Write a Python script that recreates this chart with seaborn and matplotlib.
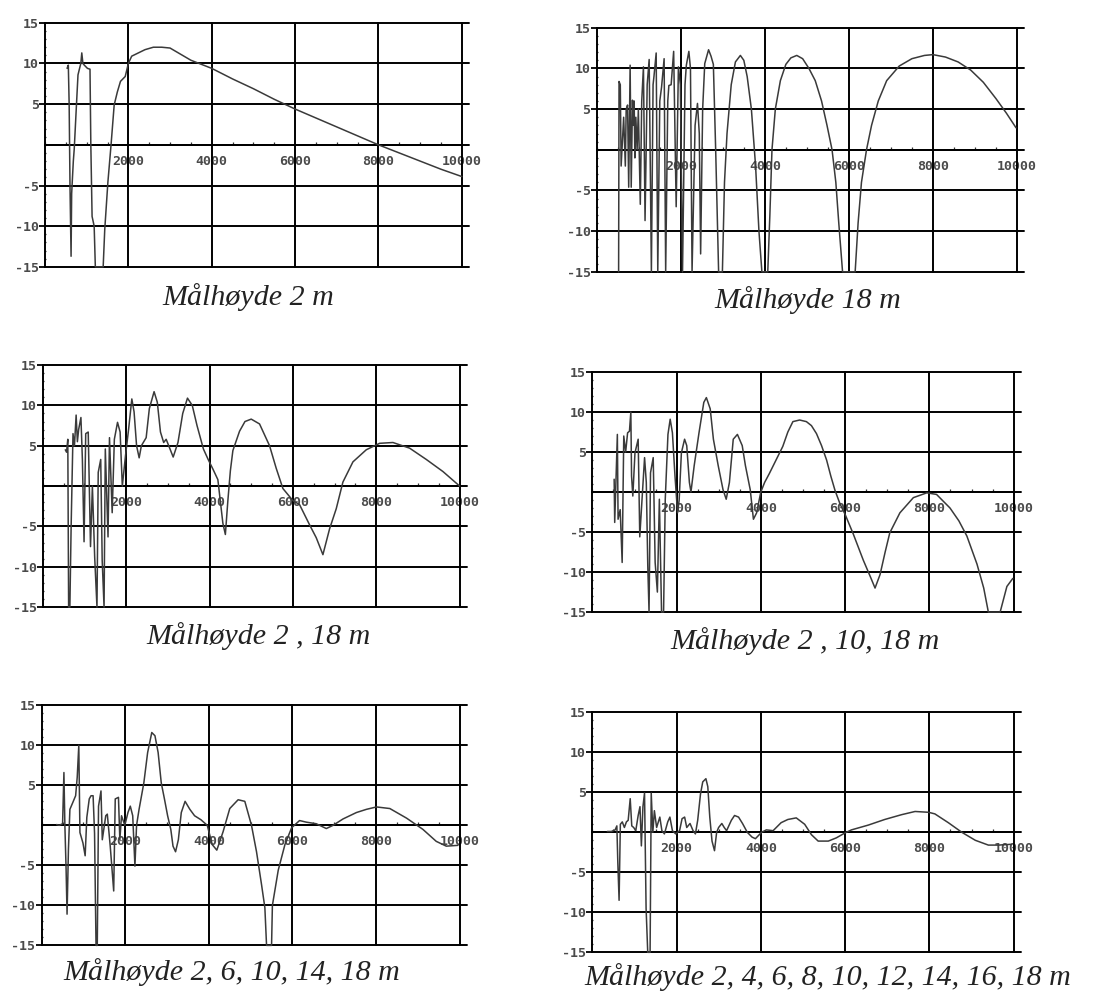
import numpy as np
import pandas as pd
import matplotlib
matplotlib.use("Agg")
import matplotlib.pyplot as plt
import seaborn as sns
from matplotlib.ticker import MultipleLocator

sns.set_theme(style="white")
plt.rcParams['font.family'] = ['DejaVu Sans']

# ---------------- data (frequency, level dB) ----------------
h2_x = [530, 560, 580, 600, 626, 640, 680, 702, 755, 792, 830, 860, 883, 910, 943, 1019, 1080, 1100,
        1130, 1180, 1208, 1396, 1434, 1509, 1585, 1660, 1736, 1811, 1925, 2000, 2080, 2200, 2400,
        2600, 2800, 3000, 3200, 3500, 4000, 4500, 5000, 5500, 6000, 6500, 7000, 7500, 8000, 8500,
        9000, 9500, 10000]
h2_y = [9.4, 9.8, 5, -5, -13.7, -6, -2, -0.5, 4.9, 8.6, 9.4, 10, 11.3, 10, 9.8, 9.4, 9.3, 0,
        -8.8, -10, -15, -15, -10.4, -4.6, 0, 4.9, 6.5, 7.8, 8.4, 10, 10.9, 11.2, 11.7,
        12, 12, 11.9, 11.3, 10.4, 9.4, 8.1, 6.9, 5.6, 4.4, 3.3, 2.2, 1.1, 0, -1,
        -2, -3, -3.9]

h18_x = [520, 530, 560, 580, 640, 680, 700, 733, 760, 794, 820, 850, 870, 890, 907, 930, 960, 990,
         1036, 1070, 1111, 1149, 1200, 1247, 1300, 1340, 1361, 1414, 1452, 1500, 1542, 1603, 1640,
         1690, 1716, 1770, 1830, 1890, 1943, 1990, 2041, 2100, 2132, 2192, 2230, 2268, 2340, 2397,
         2440, 2472, 2520, 2570, 2661, 2720, 2775, 2830, 2900, 2990, 3040, 3100, 3200, 3300, 3418,
         3500, 3580, 3680, 3780, 3860, 3930, 4070, 4120, 4170, 4250, 4370, 4500, 4620, 4760, 4900,
         5050, 5200, 5350, 5480, 5600, 5690, 5760, 5850, 6150, 6220, 6300, 6420, 6540, 6700, 6900,
         7200, 7500, 7800, 8000, 8300, 8600, 8900, 9200, 9500, 9750, 9980]
h18_y = [-15, 8.4, 8.0, -2, 4, -2, 5, 5.5, -4.6, 10.4, -4.6, 6.1, 3, 6, -1, 4, 0, 5,
         -6.7, 6, 10.2, -8.7, 8, 11.1, -15, 8, 9, 11.9, -15, 6, 7.7, 11.2, -15,
         6, 7.9, 8, 12.1, -7, 10.2, 8, -15, 8, 10.4, 12.1, 10, -15, 3, 5.7,
         2, -12.8, 5, 10.6, 12.3, 11.5, 10.5, 0, -15, -15, -4, 2, 8, 10.8, 11.6,
         11, 9, 5, -2, -10, -15, -15, -8, 0, 5, 8.5, 10.5, 11.3, 11.6, 11.2,
         10, 8.5, 6, 3, 0, -4, -9, -15, -15, -9, -4, 0, 3, 6, 8.5,
         10.3, 11.2, 11.6, 11.7, 11.4, 10.8, 9.8, 8.3, 6.3, 4.5, 2.7]

h2_18_x = [540, 570, 600, 620, 650, 680, 725, 760, 800, 830, 860, 915, 950, 990, 1030, 1090, 1145,
           1190, 1245, 1300, 1330, 1390, 1425, 1470, 1500, 1565, 1600, 1665, 1717, 1793, 1855, 1908,
           1985, 2060, 2136, 2190, 2250, 2312, 2365, 2480, 2556, 2670, 2747, 2823, 2900, 2960, 3052,
           3128, 3243, 3357, 3471, 3586, 3700, 3853, 3967, 4082, 4200, 4320, 4380, 4440, 4500, 4560,
           4720, 4850, 5000, 5200, 5440, 5600, 5760, 6000, 6160, 6400, 6560, 6720, 6880, 7040, 7200,
           7440, 7760, 8080, 8400, 8800, 9200, 9600, 10000]
h2_18_y = [4.5, 4.2, 5.8, -15, -15, -5, 6.5, 5, 8.8, 5.5, 7, 8.5, 3.3, -6.9, 6.5, 6.7, -7.5,
           0, -8.8, -15, 1.7, 3.3, -9.2, -15, 4.6, -6.3, 6, -3.3, 5.8, 7.9, 6.7, 0,
           3.8, 7.1, 10.8, 9.2, 5, 3.5, 5, 6, 9.6, 11.7, 10.4, 6.7, 5.4, 5.8, 4.6,
           3.6, 5.4, 9, 10.9, 10, 7.5, 4.6, 3.3, 2.1, 0.8, -4.6, -6, -1.8, 1.9, 4.4,
           6.8, 8, 8.3, 7.7, 5, 2.2, -0.3, -1.8, -2.3, -4.8, -6.4, -8.5, -5.3, -2.8, 0.5,
           3, 4.5, 5.3, 5.4, 4.7, 3.3, 1.8, 0]

h2_10_18_x = [517, 530, 593, 610, 660, 707, 745, 790, 836, 880, 913, 930, 960, 1011, 1087, 1125, 1180,
              1239, 1280, 1315, 1345, 1380, 1444, 1490, 1543, 1590, 1642, 1690, 1730, 1794, 1847, 1900,
              1961, 2022, 2060, 2113, 2189, 2240, 2303, 2340, 2417, 2531, 2645, 2706, 2797, 2873, 2987,
              3101, 3177, 3253, 3344, 3443, 3557, 3633, 3747, 3823, 3899, 3998, 4089, 4200, 4360, 4520,
              4640, 4760, 4920, 5080, 5200, 5320, 5440, 5560, 5660, 5760, 5880, 6000, 6190, 6430, 6600,
              6710, 6830, 6950, 7060, 7300, 7620, 7940, 8170, 8490, 8700, 8890, 9130, 9290, 9400, 9680,
              9840, 9980]
h2_10_18_y = [1.6, -3.8, 7.2, -3.4, -2.2, -8.8, 7, 5, 7.4, 7.6, 10, 2, -0.5, 4.9, 6.6, -5.6, -0.8,
              4.3, 1.2, -9.2, -15, 2.4, 4.3, -8.8, -12.5, -0.9, -15, -15, -0.9, 7.2, 9.1, 7.4,
              2, -2.6, -1, 4.9, 6.6, 5.8, 1.2, 0, 3.3, 7.4, 11.2, 11.8, 10.4, 6.6, 3.3,
              0.3, -0.9, 1.2, 6.6, 7.2, 5.8, 3.3, 0.3, -3.4, -2.6, 0, 1.2, 2.3, 4, 5.7,
              7.5, 8.8, 9, 8.8, 8.3, 7.3, 5.8, 4, 2, 0.2, -1.5, -2.8, -5.2, -8.5, -10.6,
              -12, -10.3, -7.5, -5.1, -2.6, -0.7, -0.1, -0.3, -2, -3.6, -5.5, -9, -12, -15, -15,
              -11.8, -10.8]

h5_x = [357, 420, 500, 532, 555, 584, 607, 640, 675, 740, 812, 850, 888, 915, 987, 1040, 1080, 1138,
        1180, 1230, 1265, 1300, 1330, 1360, 1419, 1450, 1533, 1570, 1640, 1723, 1760, 1837, 1870,
        1910, 1989, 2064, 2120, 2178, 2231, 2270, 2330, 2444, 2535, 2634, 2710, 2786, 2861, 2937,
        3013, 3089, 3142, 3203, 3270, 3340, 3431, 3545, 3658, 3810, 3962, 4080, 4190, 4340, 4500,
        4700, 4860, 5020, 5140, 5260, 5340, 5380, 5500, 5520, 5660, 5820, 5980, 6170, 6330, 6570,
        6810, 6970, 7210, 7530, 7770, 8010, 8330, 8730, 9120, 9440, 9680, 9960]
h5_y = [0.1, 0, 0.2, 6.6, 0, -5.5, -11.1, -3, 2, 2.8, 3.7, 6, 10, -0.9, -2.2, -3.8, 1, 3.3,
        3.7, 3.7, -1, -15, -15, 2.4, 4.3, -1.8, 1.2, 1.4, -2.6, -8.2, 3.3, 3.5, -1.8,
        1.2, 0, 1.6, 2.4, 1.2, -5.1, 0, 2, 5.3, 9.1, 11.6, 11.2, 9.1, 5.3, 3.3,
        1.2, -0.5, -2.6, -3.3, -1.8, 1.6, 3, 2, 1.2, 0.7, 0, -2.4, -3.1, -0.8, 2.1,
        3.2, 3, 0, -3.3, -7.4, -10.3, -15, -15, -10, -5.6, -2.4, -0.3, 0.6, 0.4, 0.2,
        -0.4, 0, 0.8, 1.6, 2, 2.3, 2.1, 0.9, -0.5, -2, -2.6, -2.5]

h9_x = [355, 450, 540, 581, 604, 634, 664, 710, 760, 808, 850, 898, 935, 980, 1030, 1087, 1130, 1163,
        1200, 1238, 1275, 1314, 1370, 1397, 1435, 1472, 1525, 1601, 1650, 1710, 1789, 1840, 1900,
        1978, 2070, 2129, 2190, 2240, 2318, 2390, 2446, 2500, 2567, 2620, 2695, 2740, 2787, 2840,
        2899, 2950, 2997, 3073, 3130, 3186, 3299, 3375, 3470, 3564, 3677, 3790, 3870, 4017, 4130,
        4290, 4480, 4640, 4840, 5040, 5200, 5360, 5600, 5790, 5990, 6150, 6550, 6940, 7340, 7660,
        7980, 8130, 8450, 8770, 9090, 9400, 9640, 9950]
h9_y = [0.1, 0.1, 0.3, 0.8, -3.8, -8.5, 1, 1.3, 0.6, 1.3, 1.5, 4.2, 0.8, 0.6, 0.2, 2.1, 3.2, -1.7,
        3.2, 4.9, -9.5, -15, -15, 4.9, 0, 2.7, 0.6, 1.9, 0.2, -0.2, 1.3, 1.9, 0.2,
        -0.2, 0.2, 1.7, 1.9, 0.6, 1.1, 0.2, -0.2, 1.5, 4.8, 6.3, 6.7, 5.7, 1.9, -1.1,
        -2.3, 0, 0.6, 1.1, 0.6, 0.2, 1.5, 2.1, 1.9, 1.1, 0, -0.6, -0.8, 0, 0.3,
        0.2, 1.2, 1.6, 1.8, 1, -0.3, -1.1, -1.1, -0.7, -0.1, 0.3, 0.9, 1.6, 2.2, 2.6,
        2.5, 2.3, 1.2, 0, -1, -1.6, -1.6, -1.5]

titles = ["Målhøyde 2 m", "Målhøyde 18 m", "Målhøyde 2 , 18 m", "Målhøyde 2 , 10, 18 m",
          "Målhøyde 2, 6, 10, 14, 18 m", "Målhøyde 2, 4, 6, 8, 10, 12, 14, 16, 18 m"]
x_ticks = [2000, 4000, 6000, 8000, 10000]
y_ticks = [-15, -10, -5, 5, 10, 15]
h_grid = [-15, -10, -5, 0, 5, 10, 15]

series = [(h2_x, h2_y), (h18_x, h18_y), (h2_18_x, h2_18_y),
          (h2_10_18_x, h2_10_18_y), (h5_x, h5_y), (h9_x, h9_y)]

# layout (figure fractions) and caption centres (pixels)
W, H = 1097, 992
rects = [[0.041, 0.731, 0.380, 0.246], [0.544, 0.726, 0.383, 0.246],
         [0.039, 0.388, 0.380, 0.244], [0.540, 0.383, 0.384, 0.242],
         [0.038, 0.047, 0.381, 0.242], [0.540, 0.040, 0.384, 0.242]]
cap_px = [(248, 297), (808, 300), (258, 636), (805, 641), (232, 972), (828, 977)]

fig = plt.figure(figsize=(W / 100, H / 100), dpi=100)
fig.patch.set_facecolor('white')

tick_font = dict(family='DejaVu Sans Mono', weight='bold', size=9.5)

for (xs, ys), rect, title, (cx, cy) in zip(series, rects, titles, cap_px):
    ax = fig.add_axes(rect)
    ax.set_facecolor('white')
    df = pd.DataFrame({'x': xs, 'y': ys})
    sns.lineplot(data=df, x='x', y='y', ax=ax, sort=False, estimator=None,
                 color='#3a3a3a', linewidth=1.1, zorder=3)
    for l in ax.lines:
        l.set_clip_on(False)
    ax.set_xlim(0, 10000)
    ax.set_ylim(-15, 15)
    ax.set_xlabel('')
    ax.set_ylabel('')

    # grid lines
    for v in h_grid:
        ax.axhline(v, xmin=0, xmax=1.018, color='black', lw=1.4, clip_on=False, zorder=2)
    for v in x_ticks:
        ax.axvline(v, color='black', lw=1.4, clip_on=False, zorder=2)

    for s in ['top', 'right']:
        ax.spines[s].set_visible(False)
    ax.spines['bottom'].set_position(('data', 0))
    ax.spines['left'].set_position(('data', 0))
    for s in ['bottom', 'left']:
        ax.spines[s].set_color('black')
        ax.spines[s].set_linewidth(1.4)

    ax.set_xticks(x_ticks)
    ax.set_xticklabels([str(v) for v in x_ticks], **tick_font, color='#4a4a4a')
    ax.set_yticks(y_ticks)
    ax.set_yticklabels([str(v) for v in y_ticks], **tick_font, color='#4a4a4a')
    ax.xaxis.set_minor_locator(MultipleLocator(500))
    ax.yaxis.set_minor_locator(MultipleLocator(1))
    ax.tick_params(axis='x', which='major', length=0, pad=7)
    ax.tick_params(axis='x', which='minor', length=2.5, width=0.9, direction='in', color='#333')
    ax.tick_params(axis='y', which='major', length=4, width=1.3, direction='out', pad=0.5, color='black')
    ax.tick_params(axis='y', which='minor', length=2, width=0.9, direction='inout', color='#333')
    ax.tick_params(left=True, bottom=True, which='both')

    fig.text(cx / W, 1 - cy / H, title, ha='center', va='center',
             family='Liberation Serif', style='italic', fontsize=21.6, color='#222222')

fig.savefig('out.png', dpi=100, facecolor='white')
